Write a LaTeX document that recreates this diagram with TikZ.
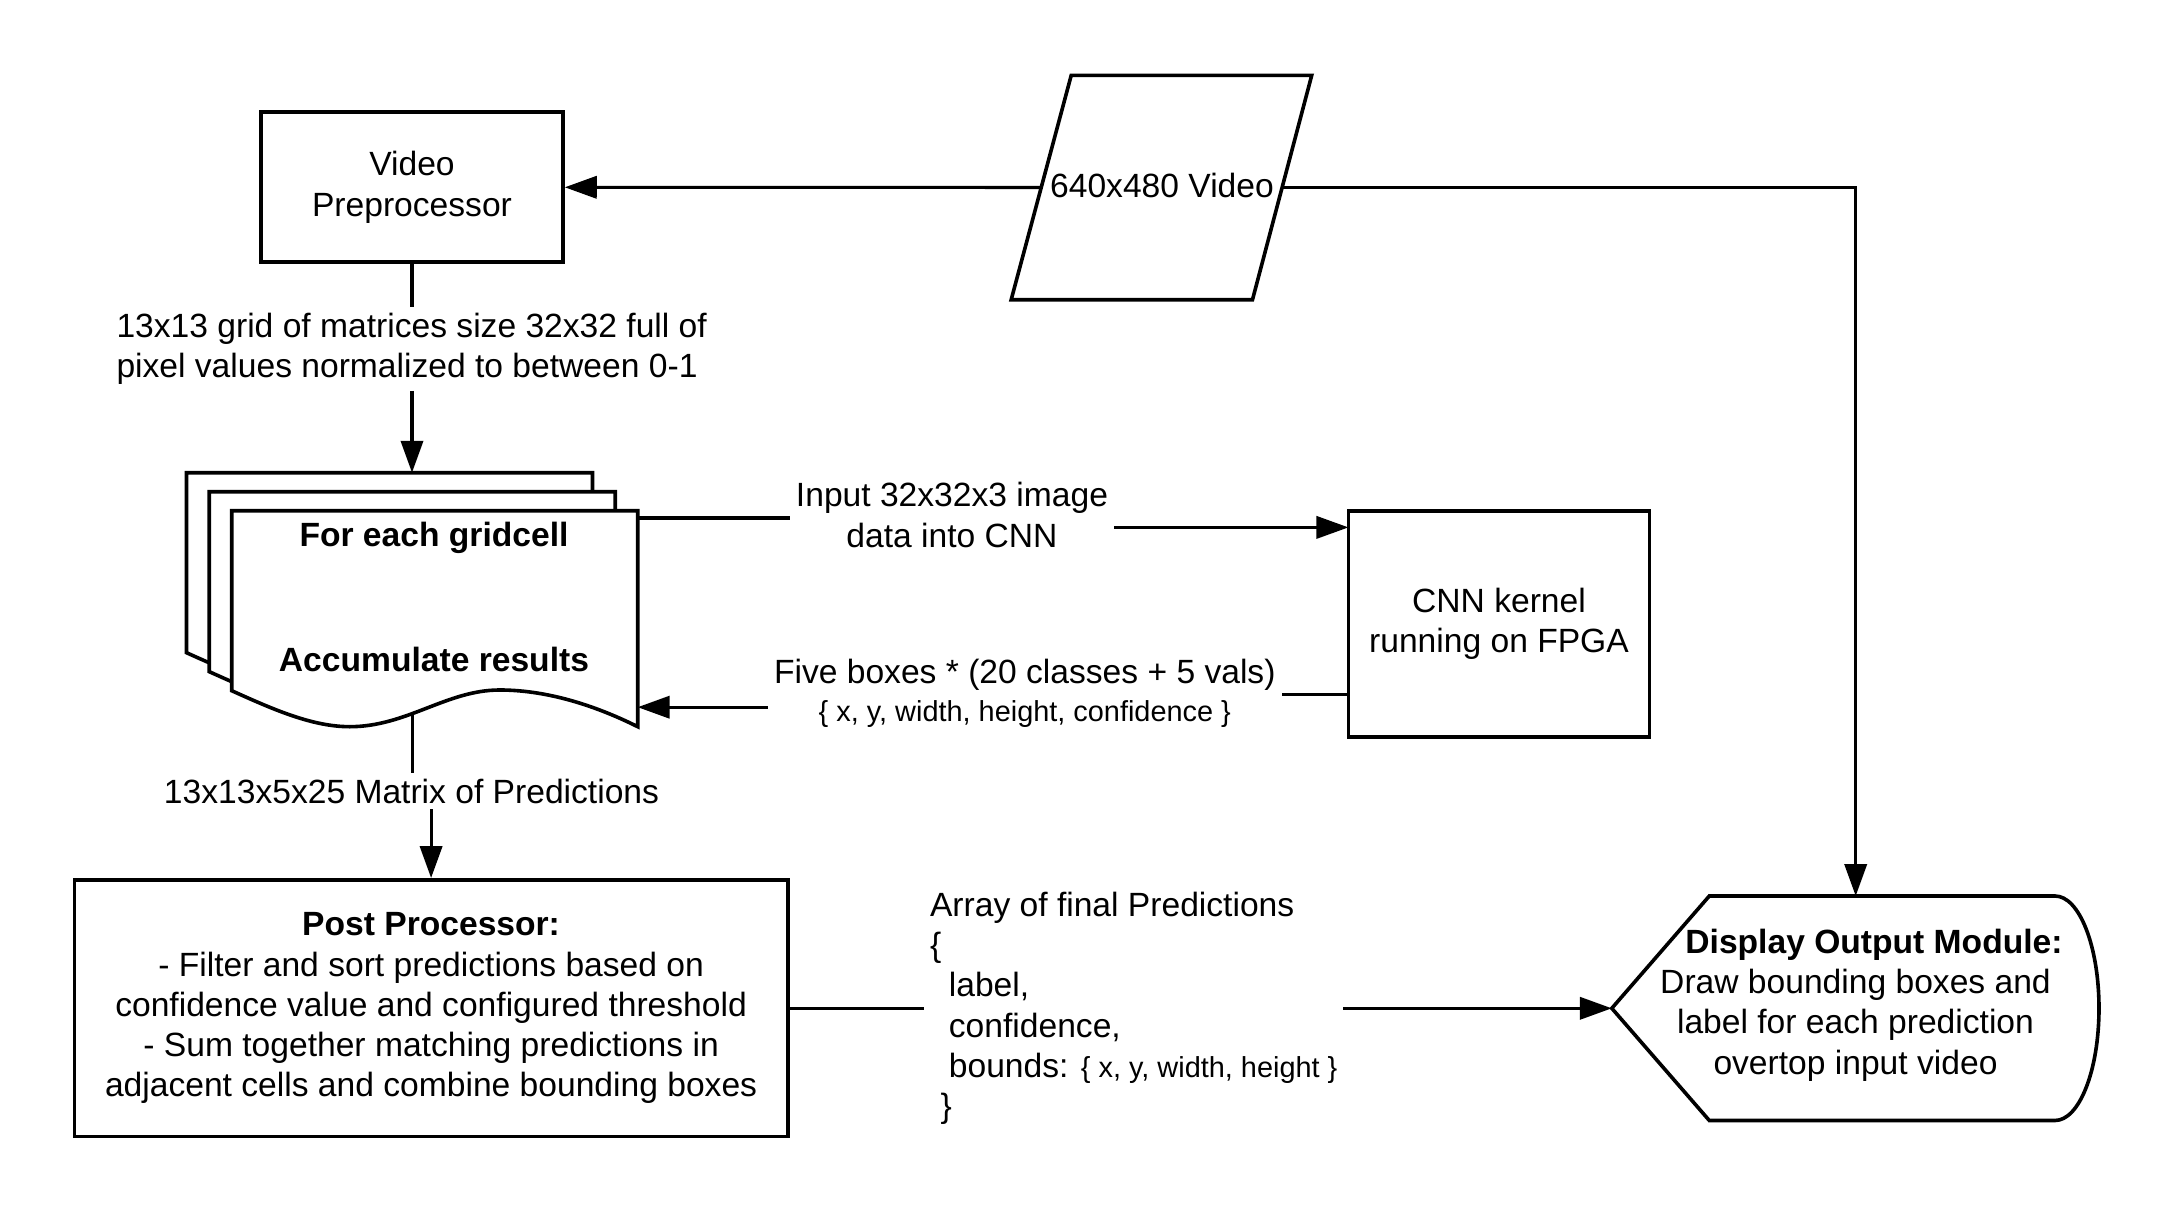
\documentclass[tikz,border=0pt]{standalone}
\usepackage{fontspec}
\setmainfont{Liberation Sans}
\usetikzlibrary{arrows.meta}
\newdimen\pxu \pxu=0.36pt
\newcommand\mainfnt{\fontsize{12.1pt}{14.5pt}\selectfont}
\newcommand\smallfnt{\fontsize{10.4pt}{14.5pt}\selectfont}
\begin{document}
\mainfnt
\begin{tikzpicture}[x=0.36pt,y=-0.36pt,
  every node/.style={font=\mainfnt},
  shp/.style={draw, line width=1.3pt, fill=white},
  box/.style={draw, line width=1.3pt, fill=white, align=center, inner sep=0pt},
  conn/.style={line width=1.1pt},
  arr/.style={conn, -{Triangle[length=11.5pt, width=8pt]}},
  lbl/.style={inner sep=2pt, align=center},
  boldtxt/.style={font=\mainfnt\bfseries}]
\fill[white] (0,0) rectangle (2175,1211);
\useasboundingbox (0,0) rectangle (2175,1211);

% video input (parallelogram)
\draw[shp] (1071.2,75.4) -- (1311.7,75.4) -- (1252.5,299.7) -- (1011.2,299.7) -- cycle;
\node (vid) at (1162,185) {640x480 Video};
\coordinate (vidL) at (1041.2,187.5);
\coordinate (vidR) at (1282,187.5);

% video preprocessor
\node[box, minimum width=302\pxu, minimum height=150\pxu] (vp) at (412,187.3) {Video\\Preprocessor};

\node[lbl, anchor=west, align=left] (lbl1) at (110.4,349) {13x13 grid of matrices size 32x32 full of\\pixel values normalized to between 0-1};

% stacked documents
\foreach \ox/\oy in {186.5/472.7, 209.3/491.7, 231.7/510.7} {
  \draw[shp, shift={(\ox,\oy)}] (0,0) -- (406,0) -- (406,216)
    .. controls (370,198) and (320,179.3) .. (268,179.3)
    .. controls (215,179.3) and (175,216) .. (118,216)
    .. controls (80,216) and (40,198) .. (0,180) -- cycle;
}
\coordinate (stackTop) at (412,472.7);
\coordinate (stackOut) at (637.7,518);
\coordinate (stackIn) at (637.7,707.2);
\coordinate (waveOut) at (412.3,712);
\node[boldtxt] (fg) at (434,538.3) {For each gridcell};
\node[boldtxt] (ar) at (434,659) {Accumulate results};

% CNN
\node[box, minimum width=301\pxu, minimum height=226\pxu] (cnn) at (1499,624) {CNN kernel\\running on FPGA};
\coordinate (cnnIn) at (1348.4,527.4);
\coordinate (cnnOut) at (1348.4,694.7);

\node[lbl] (lbl2) at (952,515) {Input 32x32x3 image\\data into CNN};
\node[lbl] (lbl3) at (1024.8,693.5) {Five boxes * (20 classes + 5 vals)\\[-0.9pt]{\smallfnt \{ x, y, width, height, confidence \}}};

\node[lbl] (lbl4) at (411.5,791) {13x13x5x25 Matrix of Predictions};

% post processor
\node[box, minimum width=713.4\pxu, minimum height=256.8\pxu] (post) at (431.1,1008.2) {\textbf{Post Processor:}\\- Filter and sort predictions based on\\confidence value and configured threshold\\- Sum together matching predictions in\\adjacent cells and combine bounding boxes};

\node[lbl, anchor=west, align=left] (lbl5) at (923.9,1008.2) {Array of final Predictions\\\{\\\hspace*{6.8pt}label,\\\hspace*{6.8pt}confidence,\\\hspace*{6.8pt}bounds: {\smallfnt \{ x, y, width, height \}}\\\hspace*{3.8pt}\}};

% display output
\draw[shp] (1611.8,1008.3) -- (1709.3,896) -- (2055,896)
  .. controls (2079.3,896) and (2099,946.3) .. (2099,1008.3)
  .. controls (2099,1070.3) and (2079.3,1120.5) .. (2055,1120.5)
  -- (1709.3,1120.5) -- cycle;
\coordinate (dispL) at (1611.8,1008.3);
\coordinate (dispT) at (1855.7,896);
\node[align=center] (disp) at (1855.5,1005) {\hspace*{13.3pt}\textbf{Display Output Module:}\\Draw bounding boxes and\\label for each prediction\\overtop input video};

% connectors
\draw[arr] (vidL) -- (vp.east);
\draw[arr] (vidR) -| (dispT);
\draw[conn] (vp.south) -- (vp.south |- lbl1.north);
\draw[arr] (vp.south |- lbl1.south) -- (stackTop);
\draw[conn] (stackOut) -- (stackOut -| lbl2.west);
\draw[arr] (cnnIn -| lbl2.east) -- (cnnIn);
\draw[conn] (cnnOut) -- (cnnOut -| lbl3.east);
\draw[arr] (stackIn -| lbl3.west) -- (stackIn);
\draw[conn] (waveOut) -- (waveOut |- lbl4.north);
\draw[arr] (post.north |- lbl4.south) -- (post.north);
\draw[conn] (post.east |- dispL) -- (dispL -| lbl5.west);
\draw[arr] (dispL -| lbl5.east) -- (dispL);
\end{tikzpicture}
\end{document}
